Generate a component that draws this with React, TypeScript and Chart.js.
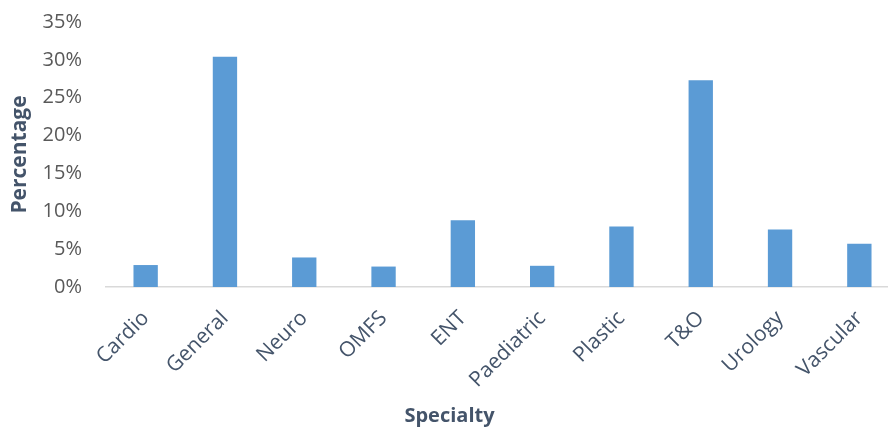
import React, { useEffect, useRef } from "react";
import { Chart, registerables } from "chart.js";

Chart.register(...registerables);

const categories: string[] = ["Cardio", "General", "Neuro", "OMFS", "ENT", "Paediatric", "Plastic", "T&O", "Urology", "Vascular"];
const percentages: number[] = [2.9, 30.4, 3.9, 2.7, 8.8, 2.8, 8.0, 27.3, 7.6, 5.7];
const yTickValues: number[] = [0, 5, 10, 15, 20, 25, 30, 35];
const xAxisTitle = "Specialty";
const yAxisTitle = "Percentage";

export default function App() {
  const ref = useRef<HTMLCanvasElement | null>(null);

  useEffect(() => {
    if (!ref.current) return;
    const chart = new Chart(ref.current, {
      type: "bar",
      data: {
        labels: categories,
        datasets: [
          {
            data: percentages,
            backgroundColor: "#5B9BD5",
            borderWidth: 0,
            categoryPercentage: 1,
            barPercentage: 0.307,
          },
        ],
      },
      options: {
        animation: false,
        responsive: false,
        devicePixelRatio: 1,
        layout: { padding: { top: 22, right: 1, bottom: 2, left: 0 } },
        plugins: {
          legend: { display: false },
          tooltip: { enabled: false },
          title: {
            display: true,
            text: xAxisTitle,
            position: "bottom",
            color: "#44546A",
            font: { family: "'Open Sans'", size: 20, weight: "bold", lineHeight: 1.2 },
            padding: { top: 10, bottom: 0 },
          },
        },
        scales: {
          x: {
            grid: { display: false },
            border: { display: true, color: "#D9D9D9", width: 1.5 },
            ticks: {
              color: "#44546A",
              font: { family: "'Open Sans'", size: 21 },
              minRotation: 45,
              maxRotation: 45,
              padding: 11,
            },
            afterFit: (scale: any) => {
              scale.height = 107;
            },
          },
          y: {
            min: 0,
            max: 35,
            grid: { display: false, drawTicks: false },
            border: { display: false },
            afterBuildTicks: (scale: any) => {
              scale.ticks = yTickValues.map((v) => ({ value: v }));
            },
            ticks: {
              color: "#595959",
              font: { family: "'Open Sans'", size: 20 },
              padding: 24,
              callback: (v: any) => `${v}%`,
            },
            title: {
              display: true,
              text: yAxisTitle,
              color: "#44546A",
              font: { family: "'Open Sans'", size: 21, weight: "bold", lineHeight: 1.2 },
              padding: { top: 7, bottom: 0 },
            },
            afterFit: (scale: any) => {
              scale.width = 106;
              scale.paddingTop = 0;
              scale.paddingBottom = 0;
            },
          },
        },
      },
    });
    return () => chart.destroy();
  }, []);

  return (
    <div style={{ position: "fixed", left: 0, top: 0, width: 888, height: 430, overflow: "hidden", background: "#fff" }}>
      <canvas ref={ref} width={900} height={430} style={{ width: 900, height: 430, display: "block" }} />
    </div>
  );
}
